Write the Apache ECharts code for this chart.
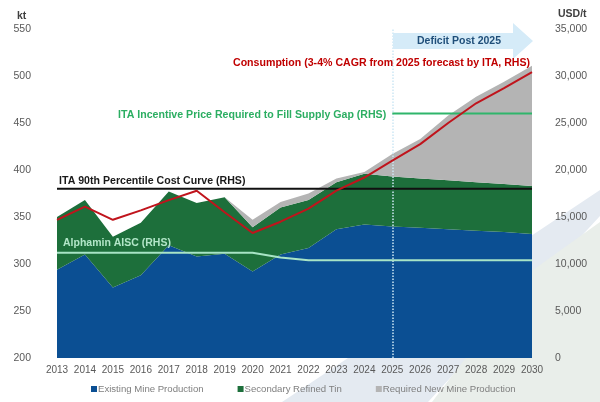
<!DOCTYPE html>
<html>
<head>
<meta charset="utf-8">
<script src="https://cdn.jsdelivr.net/npm/echarts@6/dist/echarts.min.js"></script>
<style>
  html, body { margin: 0; padding: 0; background: #fff; }
  #chart { width: 600px; height: 402px; }
</style>
</head>
<body>
<div id="chart"></div>
<script>
// categories
var years = ['2013', '2014', '2015', '2016', '2017', '2018', '2019', '2020', '2021',
    '2022', '2023', '2024', '2025', '2026', '2027', '2028', '2029', '2030'];

// stacked supply, kt (LHS)
var existingMine = [294, 310, 275, 288, 320, 308, 311, 292, 310, 317, 337, 342, 340, 338.5, 337, 335.5, 334, 332];
var secondaryTin = [56, 58, 54, 56, 57, 57, 60, 47, 50, 51, 50, 54, 53, 52.5, 52, 51.5, 51, 51];
var requiredNew = [0, 0, 0, 0, 0, 0, 0, 8, 6, 7, 4, 2, 24, 42, 69, 91, 109, 128];

// price / consumption lines, USD/t (RHS)
var consumption = [14700, 16100, 14700, 15700, 16800, 17800, 15500, 13300, 14500, 15900,
    17800, 19200, 21000, 22750, 25000, 27100, 28700, 30400];
var cost90th = [18000, 18000, 18000, 18000, 18000, 18000, 18000, 18000, 18000, 18000,
    18000, 18000, 18000, 18000, 18000, 18000, 18000, 18000];
var incentivePrice = ['-', '-', '-', '-', '-', '-', '-', '-', '-', '-', '-', '-',
    26000, 26000, 26000, 26000, 26000, 26000];
var alphaminAisc = [11200, 11200, 11200, 11200, 11200, 11200, 11200, 11200, 10700, 10400,
    10400, 10400, 10400, 10400, 10400, 10400, 10400, 10400];

// tick labels
var leftTicks = { min: 200, max: 550, interval: 50 };
var rightTicks = { min: 0, max: 35000, interval: 5000 };

var FONT = '"Liberation Sans", Arial, sans-serif';
var chart = echarts.init(document.getElementById('chart'));

function areaSeries(name, data, color) {
    return {
        name: name,
        type: 'line',
        stack: 'supply',
        data: data,
        symbol: 'none',
        lineStyle: { width: 0 },
        areaStyle: { color: color, opacity: 1 },
        itemStyle: { color: color },
        z: 2
    };
}

function priceLine(name, data, color, width) {
    return {
        name: name,
        type: 'line',
        yAxisIndex: 1,
        data: data,
        symbol: 'none',
        lineStyle: { color: color, width: width },
        itemStyle: { color: color },
        z: 5
    };
}

// annotation text, x = left edge, y = vertical centre
function note(text, x, y, color, size) {
    return {
        type: 'text',
        x: x,
        y: y,
        z: 100,
        style: {
            text: text, fill: color, font: 'bold ' + size + 'px ' + FONT,
            align: 'left', verticalAlign: 'middle'
        }
    };
}

var grey = areaSeries('Required New Mine Production', requiredNew, '#b4b4b4');
grey.markLine = {
    silent: true,
    symbol: 'none',
    label: { show: false },
    lineStyle: { type: 'dotted', color: '#cde7f5', width: 1.5 },
    data: [{ xAxis: '2025' }]
};

var option = {
    animation: false,
    textStyle: { fontFamily: FONT },
    grid: { left: 57, right: 68, top: 29, bottom: 44 },
    legend: {
        bottom: 3,
        left: 86,
        icon: 'rect',
        itemWidth: 6,
        itemHeight: 6,
        itemGap: 34,
        data: ['Existing Mine Production', 'Secondary Refined Tin', 'Required New Mine Production'],
        textStyle: { color: '#7f7f7f', fontSize: 9.6, padding: [0, 0, 0, -4] }
    },
    xAxis: {
        type: 'category',
        data: years,
        boundaryGap: false,
        axisLine: { show: false },
        axisTick: { show: false },
        axisLabel: { color: '#595959', fontSize: 10, margin: 7, interval: 0 }
    },
    yAxis: [
        {
            type: 'value',
            min: leftTicks.min, max: leftTicks.max, interval: leftTicks.interval,
            splitLine: { show: false },
            axisLine: { show: false },
            axisTick: { show: false },
            axisLabel: { color: '#595959', fontSize: 10.5, margin: 26 }
        },
        {
            type: 'value',
            min: rightTicks.min, max: rightTicks.max, interval: rightTicks.interval,
            splitLine: { show: false },
            axisLine: { show: false },
            axisTick: { show: false },
            axisLabel: {
                color: '#595959', fontSize: 10.5, margin: 23,
                formatter: function (v) { return v.toLocaleString('en-US'); }
            }
        }
    ],
    graphic: [
        // slide background decoration
        { type: 'polygon', z: -10, shape: { points: [[600, 190], [600, 216], [428, 402], [282, 402]] },
          style: { fill: '#e4eaf1' } },
        { type: 'polygon', z: -10, shape: { points: [[600, 222], [600, 402], [432, 402], [533, 270]] },
          style: { fill: '#e9eeea' } },
        // deficit arrow
        { type: 'polygon', z: 90,
          shape: { points: [[393, 33], [513, 33], [513, 23], [533, 41], [513, 59], [513, 49], [393, 49]] },
          style: { fill: '#d5ebf8' } },
        note('Deficit Post 2025', 417, 41, '#1f4e79', 10.5),
        note('kt', 17, 16, '#404040', 10.5),
        note('USD/t', 558, 14, '#404040', 10.5),
        note('Consumption (3-4% CAGR from 2025 forecast by ITA, RHS)', 233, 63, '#c00000', 10.6),
        note('ITA Incentive Price Required to Fill Supply Gap (RHS)', 118, 115, '#2cae62', 10.6),
        note('ITA 90th Percentile Cost Curve (RHS)', 59, 181, '#1a1a1a', 10.6),
        note('Alphamin AISC (RHS)', 63, 243, '#b2e6c8', 10.5)
    ],
    series: [
        areaSeries('Existing Mine Production', existingMine, '#0b4f93'),
        areaSeries('Secondary Refined Tin', secondaryTin, '#1d6f3b'),
        grey,
        priceLine('ITA 90th Percentile Cost Curve (RHS)', cost90th, '#111111', 2),
        priceLine('ITA Incentive Price Required to Fill Supply Gap (RHS)', incentivePrice, '#2fb56b', 2),
        priceLine('Alphamin AISC (RHS)', alphaminAisc, '#a8e4c6', 2),
        priceLine('Consumption (3-4% CAGR from 2025 forecast by ITA, RHS)', consumption, '#c0141c', 2)
    ]
};

chart.setOption(option);
</script>
</body>
</html>
